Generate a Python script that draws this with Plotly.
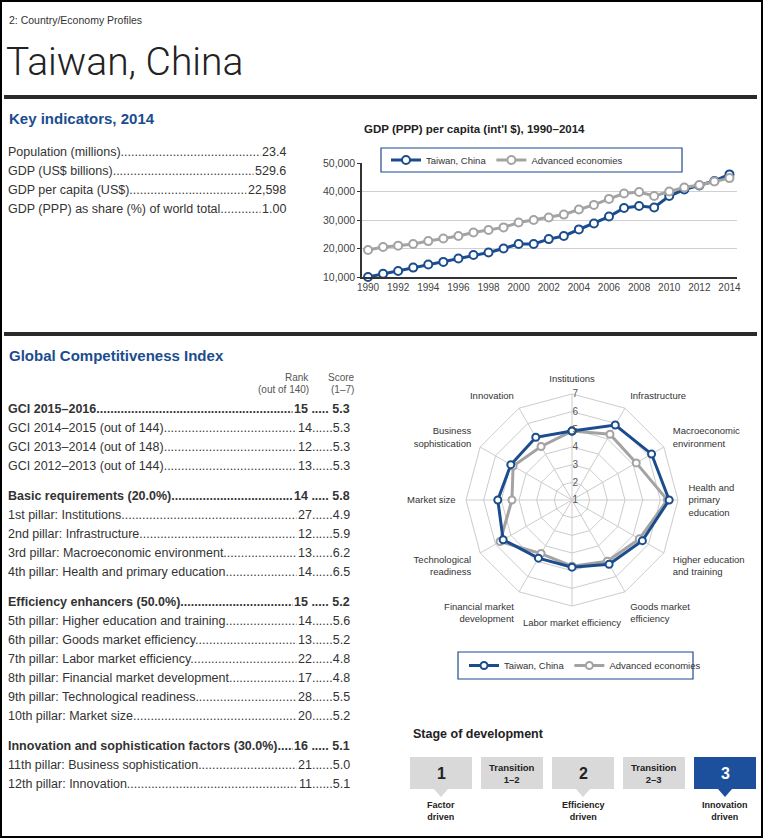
import plotly.graph_objects as go

W, H = 764, 839
def px(x): return x / W
def py(y): return 1 - y / H

REG = "Liberation Sans, Arial, sans-serif"
LIGHT = "Roboto, Liberation Sans, Arial, sans-serif"
BLUE = "#1b4d8e"
GRAY = "#a3a3a3"
TXT = "#333333"

# ---------------- data ----------------
years = list(range(1990, 2015))
gdp_taiwan = [10000, 11100, 12100, 13300, 14400, 15300, 16500, 17700, 18600, 20000,
              21600, 21600, 23300, 24400, 26700, 28800, 31200, 34200, 34900, 34400,
              38400, 40700, 42100, 43700, 46000]
gdp_advanced = [19500, 20500, 21000, 21600, 22600, 23500, 24400, 25600, 26500, 27400,
                29100, 30000, 30900, 31900, 33700, 35300, 37400, 39300, 39800, 38400,
                40000, 41400, 42300, 43500, 44700]

ki_labels = ["Population (millions)", "GDP (US$ billions)", "GDP per capita (US$)",
             "GDP (PPP) as share (%) of world total"]
ki_values = ["23.4", "529.6", "22,598", "1.00"]

gci_groups = [
    [("GCI 2015–2016", "15", "5.3", True),
     ("GCI 2014–2015 (out of 144)", "14", "5.3", False),
     ("GCI 2013–2014 (out of 148)", "12", "5.3", False),
     ("GCI 2012–2013 (out of 144)", "13", "5.3", False)],
    [("Basic requirements (20.0%)", "14", "5.8", True),
     ("1st pillar: Institutions", "27", "4.9", False),
     ("2nd pillar: Infrastructure", "12", "5.9", False),
     ("3rd pillar: Macroeconomic environment", "13", "6.2", False),
     ("4th pillar: Health and primary education", "14", "6.5", False)],
    [("Efficiency enhancers (50.0%)", "15", "5.2", True),
     ("5th pillar: Higher education and training", "14", "5.6", False),
     ("6th pillar: Goods market efficiency", "13", "5.2", False),
     ("7th pillar: Labor market efficiency", "22", "4.8", False),
     ("8th pillar: Financial market development", "17", "4.8", False),
     ("9th pillar: Technological readiness", "28", "5.5", False),
     ("10th pillar: Market size", "20", "5.2", False)],
    [("Innovation and sophistication factors (30.0%)", "16", "5.1", True),
     ("11th pillar: Business sophistication", "21", "5.0", False),
     ("12th pillar: Innovation", "11", "5.1", False)],
]

radar_cats = ["Institutions", "Infrastructure", "Macroeconomic<br>environment",
              "Health and<br>primary<br>education", "Higher education<br>and training",
              "Goods market<br>efficiency", "Labor market efficiency",
              "Financial market<br>development", "Technological<br>readiness",
              "Market size", "Business<br>sophistication", "Innovation"]
radar_taiwan = [4.9, 5.9, 6.2, 6.5, 5.6, 5.2, 4.8, 4.8, 5.5, 5.2, 5.0, 5.1]
radar_advanced = [4.9, 5.3, 5.2, 6.4, 5.4, 5.0, 4.75, 4.5, 5.7, 4.4, 4.85, 4.5]

stage_labels = ["1", "Transition<br>1–2", "2", "Transition<br>2–3", "3"]
stage_names = ["Factor<br>driven", None, "Efficiency<br>driven", None, "Innovation<br>driven"]
current_stage = 4

# ---------------- figure ----------------
fig = go.Figure()

fig.add_trace(go.Scatter(
    x=years, y=gdp_taiwan, name="Taiwan, China", mode="lines+markers",
    line=dict(color=BLUE, width=3),
    marker=dict(symbol="circle", size=8, color="white", line=dict(color=BLUE, width=2)),
    cliponaxis=False, legend="legend"))
fig.add_trace(go.Scatter(
    x=years, y=gdp_advanced, name="Advanced economies", mode="lines+markers",
    line=dict(color=GRAY, width=3),
    marker=dict(symbol="circle", size=8, color="white", line=dict(color=GRAY, width=2)),
    cliponaxis=False, legend="legend"))

theta = radar_cats + radar_cats[:1]
fig.add_trace(go.Scatterpolar(
    r=radar_advanced + radar_advanced[:1], theta=theta, name="Advanced economies",
    mode="lines+markers", line=dict(color=GRAY, width=3),
    marker=dict(size=7, color="white", line=dict(color=GRAY, width=2)),
    legend="legend2", legendrank=2))
fig.add_trace(go.Scatterpolar(
    r=radar_taiwan + radar_taiwan[:1], theta=theta, name="Taiwan, China",
    mode="lines+markers", line=dict(color=BLUE, width=3),
    marker=dict(size=7, color="white", line=dict(color=BLUE, width=2)),
    legend="legend2", legendrank=1))

ann = []
shapes = []

def text(x, y, t, size, color=TXT, family=REG, bold=False, xanchor="left", weight=None):
    if bold:
        t = "<b>" + t + "</b>"
    f = dict(size=size, color=color, family=family)
    if weight:
        f["weight"] = weight
    ann.append(dict(x=px(x), y=py(y), xref="paper", yref="paper", text=t, showarrow=False,
                    xanchor=xanchor, yanchor="middle", font=f))

def dotted(label, right, y, x0, x1, size, bold):
    lab = label + "." * 160
    if bold:
        lab = "<b>" + lab + "</b>"
        right = "<b>" + right + "</b>"
    ann.append(dict(x=px(x0), y=py(y), xref="paper", yref="paper", text=lab, showarrow=False,
                    xanchor="left", yanchor="middle", align="left", width=x1 - x0 - 6, borderpad=0,
                    font=dict(size=size, color=TXT, family=REG)))
    ann.append(dict(x=px(x1), y=py(y), xref="paper", yref="paper", text=right, showarrow=False,
                    xanchor="right", yanchor="middle", align="right", bgcolor="white", borderpad=1,
                    font=dict(size=size, color=TXT, family=REG)))

def box(x0, y0, x1, y1, color):
    shapes.append(dict(type="rect", xref="paper", yref="paper", x0=px(x0), x1=px(x1),
                       y0=py(y1), y1=py(y0), fillcolor="white", line=dict(color=color, width=1.2),
                       layer="above"))

# header
text(7, 20, "2: Country/Economy Profiles", 10.5)
text(4, 62, "Taiwan, China", 39, color="#222222", family=LIGHT, weight=300)
shapes.append(dict(type="line", xref="paper", yref="paper", x0=px(4), x1=px(757), y0=py(97), y1=py(97),
                   line=dict(color="#2a2a2a", width=4)))
text(7, 118, "Key indicators, 2014", 15, color=BLUE, bold=True)

for i, (lab, val) in enumerate(zip(ki_labels, ki_values)):
    dotted(lab, val, 152 + i * 19, 7, 288, 12.5, False)

# line chart title + legend box
text(362, 129, "GDP (PPP) per capita (int'l $), 1990–2014", 11.5, color="#222222", bold=True)
box(381, 148, 682, 172, BLUE)

# second separator
shapes.append(dict(type="line", xref="paper", yref="paper", x0=px(4), x1=px(757), y0=py(334), y1=py(334),
                   line=dict(color="#2a2a2a", width=4)))
text(7, 355, "Global Competitiveness Index", 15, color=BLUE, bold=True)
text(311, 377, "Rank", 10, color="#555555", xanchor="right")
text(311, 389, "(out of 140)", 10, color="#555555", xanchor="right")
text(341, 377, "Score", 10, color="#555555", xanchor="center")
text(342, 389, "(1–7)", 10, color="#555555", xanchor="center")

y = 409
for g in gci_groups:
    for (lab, rank, score, bold) in g:
        if bold:
            dotted(lab, rank + " ..... " + score, y, 7, 352, 12.5, True)
        else:
            dotted(lab, rank + "......" + score, y, 7, 352, 12.5, False)
        y += 19
    y += 11

# radar legend box
box(458, 652, 693, 679, BLUE)

# stage of development
text(411, 734, "Stage of development", 12.5, color="#222222", bold=True)
for i, lab in enumerate(stage_labels):
    x0 = 410 + i * 71
    x1 = x0 + 62
    cx = (x0 + x1) / 2
    active = i == current_stage
    fill = "#1c4f9c" if active else "#d9d9d9"
    shapes.append(dict(type="rect", xref="paper", yref="paper", x0=px(x0), x1=px(x1),
                       y0=py(789), y1=py(757), fillcolor=fill, line=dict(width=0)))
    main = stage_names[i] is not None
    text(cx, 773, lab, 16 if main else 9.5, color="white" if active else "#222222",
         bold=True, xanchor="center")
    if main:
        shapes.append(dict(type="path", xref="paper", yref="paper",
                           path=f"M {px(cx-7)},{py(789)} L {px(cx+7)},{py(789)} L {px(cx)},{py(797)} Z",
                           fillcolor=fill, line=dict(width=0)))
        text(cx, 811, stage_names[i], 9, color="#222222", bold=True, xanchor="center")

# frame
shapes.append(dict(type="rect", xref="paper", yref="paper", x0=px(1), x1=px(762), y0=py(837), y1=py(1),
                   line=dict(color="black", width=2), layer="above"))

fig.update_layout(
    width=W, height=H, margin=dict(l=0, r=0, t=0, b=0, autoexpand=False),
    paper_bgcolor="white", plot_bgcolor="white",
    annotations=ann, shapes=shapes,
    xaxis=dict(domain=[px(362), px(737)], range=[1989.6, 2014.5], tickvals=list(range(1990, 2015, 2)),
               showgrid=False, showline=True, linecolor="#333333", linewidth=1.5, ticks="",
               tickfont=dict(size=10, color="#444444", family=REG), zeroline=False),
    yaxis=dict(domain=[py(277), py(163)], range=[10000, 50000], tickvals=[10000, 20000, 30000, 40000, 50000],
               tickformat=",d", showgrid=True, gridcolor="#d0d0d0", gridwidth=1,
               showline=True, linecolor="#333333", linewidth=1.5, ticks="outside", ticklen=3,
               tickcolor="#333333", tickfont=dict(size=10.5, color="#444444", family=REG), zeroline=False),
    legend=dict(x=px(386), y=py(160), xanchor="left", yanchor="middle", orientation="h",
                bgcolor="rgba(0,0,0,0)", borderwidth=0,
                font=dict(size=9.5, color=TXT, family=REG), itemwidth=30),
    legend2=dict(x=px(464), y=py(665.5), xanchor="left", yanchor="middle", orientation="h",
                 bgcolor="rgba(0,0,0,0)", borderwidth=0,
                 font=dict(size=9.5, color=TXT, family=REG), itemwidth=30),
    polar=dict(
        domain=dict(x=[px(466), px(678)], y=[py(606), py(394)]),
        bgcolor="white", gridshape="linear",
        radialaxis=dict(range=[1, 7], tickvals=[1, 2, 3, 4, 5, 6, 7], angle=90, tickangle=90, showline=False,
                        gridcolor="#cccccc", ticks="", tickprefix="\u2002\u2002",
                        tickfont=dict(size=10, color="#555555", family=REG)),
        angularaxis=dict(rotation=90, direction="clockwise", gridcolor="#cccccc", linecolor="#cccccc",
                         showline=True, ticks="outside", ticklen=8, tickcolor="rgba(0,0,0,0)",
                         tickfont=dict(size=9.5, color=TXT, family=REG)),
    ),
    showlegend=True,
)

fig.write_html("out.html", config={"displayModeBar": False},
               post_script="document.body.style.margin='0';document.body.style.overflow='hidden';")
